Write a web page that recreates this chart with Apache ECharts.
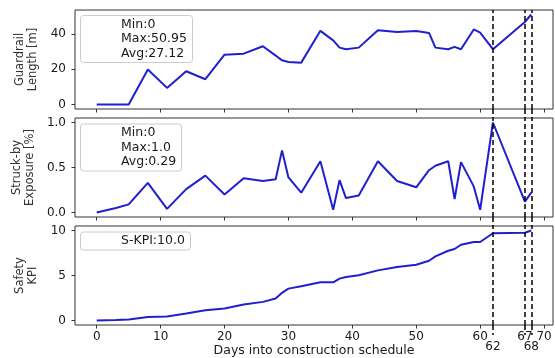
<!DOCTYPE html>
<html>
<head>
<meta charset="utf-8">
<script src="https://cdn.jsdelivr.net/npm/echarts@6/dist/echarts.min.js"></script>
<style>
  html, body { margin: 0; padding: 0; background: #fff; }
  #main { width: 555px; height: 358px; }
</style>
</head>
<body>
<div id="main"></div>
<script>
  // construction days with a recorded value
  var days = [0, 3, 5, 8, 11, 14, 17, 20, 23, 26, 28, 29, 30, 32, 35, 37, 38, 39, 41, 44, 47, 50, 52, 53, 55, 56, 57, 59, 60, 62, 67, 68]
  var guardrail = [0, 0, 0, 19.8, 9.4, 18.8, 14.3, 28.2, 28.8, 33, 27.7, 25, 24.1, 23.7, 41.7, 36.3, 32.2, 31.3, 32.2, 42, 41, 41.6, 40.5, 32.2, 31.3, 32.6, 31.3, 42.5, 40.7, 31.3, 46.7, 50.95]
  var exposure = [0, 0.05, 0.09, 0.33, 0.04, 0.26, 0.41, 0.2, 0.38, 0.35, 0.37, 0.69, 0.39, 0.22, 0.57, 0.03, 0.36, 0.16, 0.19, 0.57, 0.35, 0.28, 0.47, 0.52, 0.57, 0.15, 0.56, 0.29, 0.03, 1.0, 0.12, 0.22]
  var kpi = [0, 0.05, 0.1, 0.4, 0.45, 0.77, 1.14, 1.33, 1.77, 2.07, 2.44, 3.07, 3.54, 3.8, 4.24, 4.24, 4.65, 4.84, 5.02, 5.57, 5.95, 6.2, 6.64, 7.12, 7.75, 7.94, 8.42, 8.72, 8.72, 9.7, 9.75, 10.0]

  var markDays = [62, 67, 68]
  var xTicks = [0, 10, 20, 30, 40, 50, 60, 70]
  var xLabels = [0, 10, 20, 30, 40, 50, 60, 67, 70]
  var xLabelsLow = [62, 68]

  var yNames = ['Guardrail\nLength [m]', 'Struck-by\nExposure [%]', 'Safety\nKPI']
  var yTicks = [[0, 20, 40], [0, 0.5, 1], [0, 5, 10]]
  var yRanges = [[-2.5475, 53.4975], [-0.05, 1.05], [-0.5, 10.5]]
  var boxTexts = ['Min:0\nMax:50.95\nAvg:27.12', 'Min:0\nMax:1.0\nAvg:0.29', 'S-KPI:10.0']

  var font = 'DejaVu Sans'
  var ink = '#1a1a1a'
  var gridTops = [10, 118, 226]
  var boxTops = [15, 123.5, 231.5]

  function pairs(vals) {
    return days.map(function (d, i) { return [d, vals[i]] })
  }
  var allSeries = [guardrail, exposure, kpi]

  var grids = [], xAxes = [], yAxes = [], series = [], titles = []
  for (var i = 0; i < 3; i++) {
    grids.push({
      left: 75, right: 2, top: gridTops[i], height: 99,
      show: true, borderColor: '#333', borderWidth: 1, backgroundColor: 'transparent'
    })
    xAxes.push({
      type: 'value', gridIndex: i, min: -3.4, max: 71.4, position: 'bottom',
      axisLine: { show: false, onZero: false }, splitLine: { show: false },
      axisTick: { customValues: xTicks, length: 3.5, lineStyle: { color: '#333' } },
      axisLabel: {
        show: i === 2, customValues: xLabels, margin: 6,
        fontFamily: font, fontSize: 12, color: ink
      },
      name: i === 2 ? 'Days into construction schedule' : '',
      nameLocation: 'middle', nameGap: 19,
      nameTextStyle: { fontFamily: font, fontSize: 12.5, color: ink }
    })
    yAxes.push({
      type: 'value', gridIndex: i, min: yRanges[i][0], max: yRanges[i][1],
      axisLine: { show: false, onZero: false }, splitLine: { show: false },
      axisTick: { customValues: yTicks[i], length: 3.5, lineStyle: { color: '#333' } },
      axisLabel: {
        customValues: yTicks[i], margin: 9, fontFamily: font, fontSize: 12, color: ink,
        formatter: i === 1 ? function (v) { return v.toFixed(1) } : null
      },
      name: yNames[i], nameLocation: 'middle', nameRotate: 90, nameGap: 27,
      nameTextStyle: { fontFamily: font, fontSize: 11.5, lineHeight: 13, color: '#333', align: 'center' }
    })
    series.push({
      type: 'line', xAxisIndex: i, yAxisIndex: i,
      data: pairs(allSeries[i]), showSymbol: false, symbol: 'none',
      lineStyle: { color: '#1f1fd0', width: 2 },
      markLine: {
        silent: true, symbol: 'none', label: { show: false },
        lineStyle: { color: '#000', type: [5, 3], width: 1.5 },
        data: markDays.map(function (d) { return { xAxis: d } })
      }
    })
    titles.push({
      text: boxTexts[i], left: 80, top: boxTops[i],
      padding: [2, 6, 2, 41],
      backgroundColor: 'rgba(255,255,255,0.8)', borderColor: '#ccc', borderWidth: 1, borderRadius: 3,
      textStyle: { fontFamily: font, fontSize: 12.5, fontWeight: 'normal', lineHeight: 14.5, color: ink }
    })
  }

  // dashed ticks carry the marker lines across the gaps and into the label row
  for (var j = 0; j < 3; j++) {
    xAxes.push({
      type: 'value', gridIndex: j, min: -3.4, max: 71.4, position: 'bottom',
      axisLine: { show: false, onZero: false }, splitLine: { show: false },
      axisTick: {
        customValues: markDays, length: j === 2 ? 10 : 9,
        lineStyle: { color: '#000', type: [5, 3], width: 1.5 }
      },
      axisLabel: {
        show: j === 2, customValues: xLabelsLow, margin: 16,
        fontFamily: font, fontSize: 12, color: ink
      }
    })
  }

  var chart = echarts.init(document.getElementById('main'))
  chart.setOption({
    animation: false,
    backgroundColor: '#fff',
    title: titles,
    grid: grids,
    xAxis: xAxes,
    yAxis: yAxes,
    series: series
  })
</script>
</body>
</html>
